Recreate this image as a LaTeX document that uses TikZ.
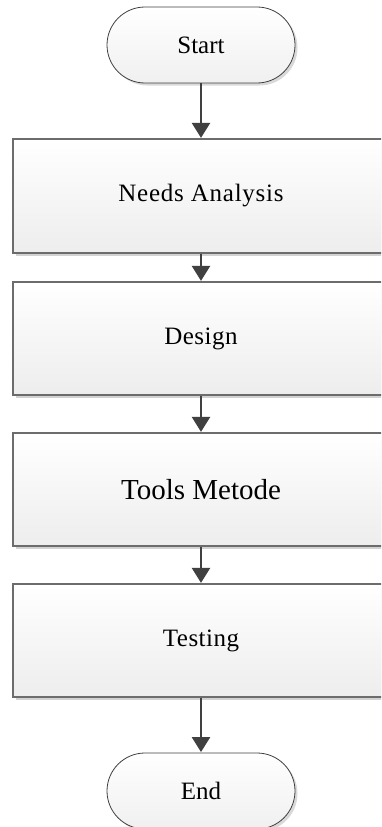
\documentclass[tikz,border=0pt]{standalone}
\usepackage{fontspec}
\setmainfont{Liberation Serif}
\usetikzlibrary{arrows.meta,shadows}
\tikzset{
  x=1pt,y=1pt,
  proc/.style={draw=gray!85!black, line width=1.2pt, minimum width=376pt, minimum height=113pt,
    top color=white, bottom color=gray!14, inner sep=0pt,
    drop shadow={shadow xshift=2.5pt, shadow yshift=-2.5pt, fill=gray!35, opacity=1},
    font=\fontsize{25}{30}\selectfont},
  term/.style={draw=gray!50!black, line width=0.8pt, minimum width=188pt, minimum height=76pt,
    rounded corners=38pt, top color=white, bottom color=gray!12, inner sep=0pt,
    drop shadow={shadow xshift=2.5pt, shadow yshift=-2.5pt, fill=gray!30, opacity=1},
    font=\fontsize{25}{30}\selectfont},
  flow/.style={draw=black!75, line width=2.5pt, -{Triangle[length=15pt,width=18pt]}, shorten >=0.5pt}
}
\begin{document}
\begin{tikzpicture}
\useasboundingbox (0,0) rectangle (381,-827);
\clip (0,0) rectangle (381,-827);
\node[term] (start) at (201,-45) {Start};
\node[proc, minimum height=114pt] (na) at (201,-196) {\addfontfeature{LetterSpace=3}Needs Analysis};
\node[proc] (design) at (201,-338.5) {\addfontfeature{LetterSpace=2}Design};
\node[proc, font=\fontsize{29}{34}\selectfont] (tools) at (201,-489.5) {Tools Metode};
\node[proc] (test) at (201,-640.5) {\addfontfeature{LetterSpace=2}Testing};
\node[term] (end) at (201,-791) {End};
\draw[flow] (start) -- (na);
\draw[flow] (na) -- (design);
\draw[flow] (design) -- (tools);
\draw[flow] (tools) -- (test);
\draw[flow] (test) -- (end);
\end{tikzpicture}
\end{document}
